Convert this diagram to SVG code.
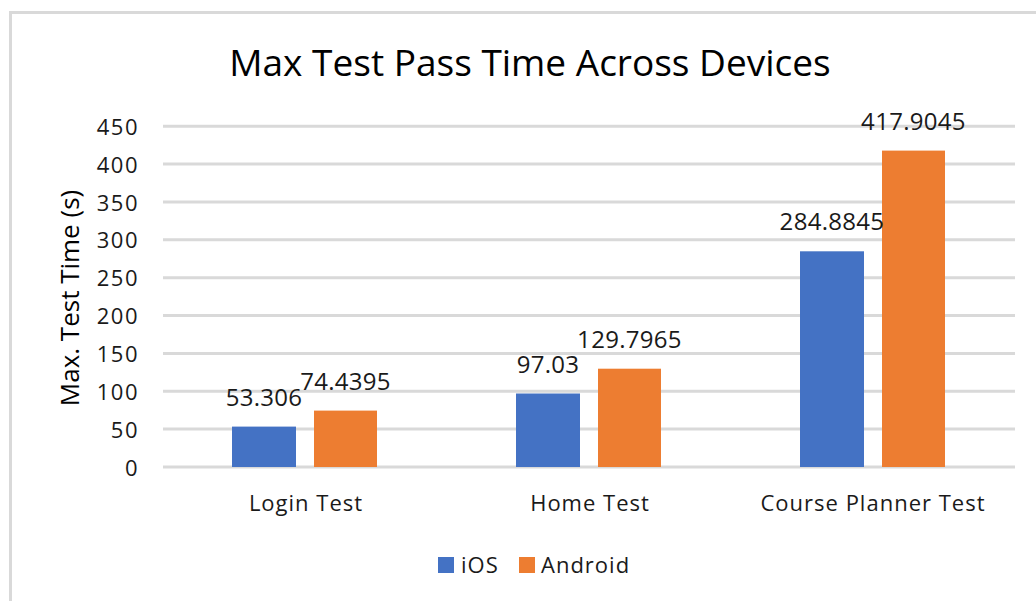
<svg xmlns="http://www.w3.org/2000/svg" width="1036" height="601" viewBox="0 0 1036 601">
  <style>
    text { font-family: "Open Sans", "Liberation Sans", sans-serif; fill: #000; }
    .title { font-size: 37px; text-anchor: middle; }
    .tick { font-size: 22px; letter-spacing: 1.5px; text-anchor: end; fill: #1a1a1a; }
    .axis-title { font-size: 26px; text-anchor: middle; }
    .cat { font-size: 22px; letter-spacing: 1px; text-anchor: middle; fill: #1a1a1a; }
    .val { font-size: 24px; letter-spacing: 0.3px; text-anchor: middle; fill: #1a1a1a; }
    .legend { font-size: 22px; letter-spacing: 1px; fill: #1a1a1a; }
    .grid { stroke: #d9d9d9; stroke-width: 3; }
    .frame { stroke: #d9d9d9; stroke-width: 3; fill: none; }
    .ios { fill: #4472c4; }
    .android { fill: #ed7d31; }
  </style>

  <rect width="1036" height="601" fill="#ffffff"/>

  <!-- chart area frame (top and left edges) -->
  <path class="frame" d="M10.5,601 V12.5 H1036"/>

  <text class="title" x="530" y="76">Max Test Pass Time Across Devices</text>

  <!-- horizontal gridlines, 0 to 450 in steps of 50 -->
  <g id="gridlines">
    <line class="grid" x1="163" x2="1015" y1="467" y2="467"/>
    <line class="grid" x1="163" x2="1015" y1="429.1" y2="429.1"/>
    <line class="grid" x1="163" x2="1015" y1="391.3" y2="391.3"/>
    <line class="grid" x1="163" x2="1015" y1="353.4" y2="353.4"/>
    <line class="grid" x1="163" x2="1015" y1="315.6" y2="315.6"/>
    <line class="grid" x1="163" x2="1015" y1="277.7" y2="277.7"/>
    <line class="grid" x1="163" x2="1015" y1="239.8" y2="239.8"/>
    <line class="grid" x1="163" x2="1015" y1="202" y2="202"/>
    <line class="grid" x1="163" x2="1015" y1="164.1" y2="164.1"/>
    <line class="grid" x1="163" x2="1015" y1="126.3" y2="126.3"/>
  </g>

  <!-- y axis -->
  <g id="y-axis">
    <text class="tick" x="139" y="475.5">0</text>
    <text class="tick" x="139" y="437.6">50</text>
    <text class="tick" x="139" y="399.8">100</text>
    <text class="tick" x="139" y="361.9">150</text>
    <text class="tick" x="139" y="324.1">200</text>
    <text class="tick" x="139" y="286.2">250</text>
    <text class="tick" x="139" y="248.3">300</text>
    <text class="tick" x="139" y="210.5">350</text>
    <text class="tick" x="139" y="172.6">400</text>
    <text class="tick" x="139" y="134.8">450</text>
    <text class="axis-title" transform="translate(79,298) rotate(-90)">Max. Test Time (s)</text>
  </g>

  <!-- Login Test -->
  <g id="login-test">
    <rect class="ios" x="232" y="426.6" width="64" height="40.4"/>
    <rect class="android" x="314" y="410.6" width="63" height="56.4"/>
    <text class="val" x="264" y="406">53.306</text>
    <text class="val" x="345.5" y="390">74.4395</text>
    <text class="cat" x="306" y="511">Login Test</text>
  </g>

  <!-- Home Test -->
  <g id="home-test">
    <rect class="ios" x="516" y="393.5" width="64" height="73.5"/>
    <rect class="android" x="598" y="368.7" width="63" height="98.3"/>
    <text class="val" x="548" y="373">97.03</text>
    <text class="val" x="629.5" y="348">129.7965</text>
    <text class="cat" x="590" y="511">Home Test</text>
  </g>

  <!-- Course Planner Test -->
  <g id="course-planner-test">
    <rect class="ios" x="800" y="251.3" width="64" height="215.7"/>
    <rect class="android" x="882" y="150.6" width="63" height="316.4"/>
    <text class="val" x="832" y="230">284.8845</text>
    <text class="val" x="913.5" y="130">417.9045</text>
    <text class="cat" x="873" y="511">Course Planner Test</text>
  </g>

  <!-- legend -->
  <g id="legend">
    <rect class="ios" x="438" y="557" width="16" height="16"/>
    <text class="legend" x="461" y="573">iOS</text>
    <rect class="android" x="519" y="557" width="16" height="16"/>
    <text class="legend" x="541" y="573">Android</text>
  </g>
</svg>
